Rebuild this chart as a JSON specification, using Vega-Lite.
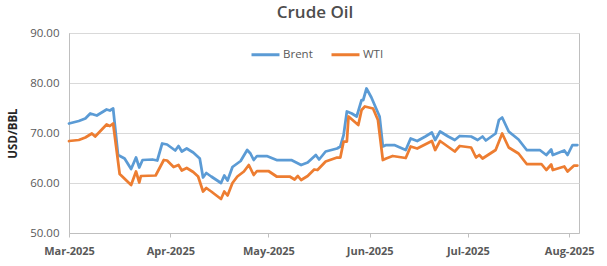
{
  "$schema": "https://vega.github.io/schema/vega-lite/v6.json",
  "width": 510,
  "height": 200,
  "autosize": "none",
  "padding": {"left": 69, "top": 33, "right": 28, "bottom": 33},
  "background": "white",
  "title": {"text": "Crude Oil", "fontSize": 17, "font": "Open Sans", "fontWeight": 600, "color": "#4D4D4D", "anchor": "middle", "dx": -9, "offset": 5},
  "config": {
    "view": {"stroke": "#BFBFBF", "strokeWidth": 1},
    "axis": {"labelFont": "Open Sans", "titleFont": "Open Sans", "labelColor": "#595959", "domainColor": "#BFBFBF", "tickColor": "#BFBFBF", "gridColor": "#D9D9D9"}
  },
  "data": {"values": [
    {"date": "2025-03-03T00:00", "series": "Brent", "price": 71.9},
    {"date": "2025-03-06T00:00", "series": "Brent", "price": 72.4},
    {"date": "2025-03-08T00:00", "series": "Brent", "price": 72.9},
    {"date": "2025-03-09T12:00", "series": "Brent", "price": 73.9},
    {"date": "2025-03-11T12:00", "series": "Brent", "price": 73.5},
    {"date": "2025-03-13T00:00", "series": "Brent", "price": 74.1},
    {"date": "2025-03-14T12:00", "series": "Brent", "price": 74.7},
    {"date": "2025-03-15T12:00", "series": "Brent", "price": 74.5},
    {"date": "2025-03-16T12:00", "series": "Brent", "price": 74.9},
    {"date": "2025-03-18T00:00", "series": "Brent", "price": 65.6},
    {"date": "2025-03-20T00:00", "series": "Brent", "price": 64.9},
    {"date": "2025-03-22T00:00", "series": "Brent", "price": 62.8},
    {"date": "2025-03-23T12:00", "series": "Brent", "price": 65.1},
    {"date": "2025-03-24T12:00", "series": "Brent", "price": 63.1},
    {"date": "2025-03-25T12:00", "series": "Brent", "price": 64.6},
    {"date": "2025-03-28T12:00", "series": "Brent", "price": 64.7},
    {"date": "2025-03-30T00:00", "series": "Brent", "price": 64.5},
    {"date": "2025-03-31T12:00", "series": "Brent", "price": 67.9},
    {"date": "2025-04-02T00:00", "series": "Brent", "price": 67.7},
    {"date": "2025-04-04T12:00", "series": "Brent", "price": 66.5},
    {"date": "2025-04-05T12:00", "series": "Brent", "price": 67.4},
    {"date": "2025-04-06T12:00", "series": "Brent", "price": 66.3},
    {"date": "2025-04-08T00:00", "series": "Brent", "price": 66.9},
    {"date": "2025-04-10T00:00", "series": "Brent", "price": 66.1},
    {"date": "2025-04-12T00:00", "series": "Brent", "price": 64.9},
    {"date": "2025-04-13T00:00", "series": "Brent", "price": 61.1},
    {"date": "2025-04-14T00:00", "series": "Brent", "price": 62.0},
    {"date": "2025-04-15T12:00", "series": "Brent", "price": 61.3},
    {"date": "2025-04-18T12:00", "series": "Brent", "price": 60.0},
    {"date": "2025-04-19T12:00", "series": "Brent", "price": 61.5},
    {"date": "2025-04-20T12:00", "series": "Brent", "price": 60.5},
    {"date": "2025-04-22T00:00", "series": "Brent", "price": 63.2},
    {"date": "2025-04-24T12:00", "series": "Brent", "price": 64.4},
    {"date": "2025-04-26T12:00", "series": "Brent", "price": 66.6},
    {"date": "2025-04-27T12:00", "series": "Brent", "price": 65.9},
    {"date": "2025-04-28T12:00", "series": "Brent", "price": 64.6},
    {"date": "2025-04-29T12:00", "series": "Brent", "price": 65.4},
    {"date": "2025-05-02T12:00", "series": "Brent", "price": 65.4},
    {"date": "2025-05-05T12:00", "series": "Brent", "price": 64.6},
    {"date": "2025-05-10T00:00", "series": "Brent", "price": 64.6},
    {"date": "2025-05-11T12:00", "series": "Brent", "price": 64.1},
    {"date": "2025-05-13T00:00", "series": "Brent", "price": 63.6},
    {"date": "2025-05-15T00:00", "series": "Brent", "price": 64.1},
    {"date": "2025-05-17T12:00", "series": "Brent", "price": 65.6},
    {"date": "2025-05-18T12:00", "series": "Brent", "price": 64.7},
    {"date": "2025-05-20T12:00", "series": "Brent", "price": 66.3},
    {"date": "2025-05-24T00:00", "series": "Brent", "price": 66.9},
    {"date": "2025-05-25T00:00", "series": "Brent", "price": 67.3},
    {"date": "2025-05-26T00:00", "series": "Brent", "price": 69.6},
    {"date": "2025-05-27T00:00", "series": "Brent", "price": 74.3},
    {"date": "2025-05-28T12:00", "series": "Brent", "price": 73.9},
    {"date": "2025-05-30T00:00", "series": "Brent", "price": 73.3},
    {"date": "2025-05-31T12:00", "series": "Brent", "price": 76.6},
    {"date": "2025-06-01T00:00", "series": "Brent", "price": 76.6},
    {"date": "2025-06-02T00:00", "series": "Brent", "price": 78.9},
    {"date": "2025-06-03T12:00", "series": "Brent", "price": 77.1},
    {"date": "2025-06-06T00:00", "series": "Brent", "price": 73.3},
    {"date": "2025-06-07T00:00", "series": "Brent", "price": 67.3},
    {"date": "2025-06-08T00:00", "series": "Brent", "price": 67.6},
    {"date": "2025-06-10T12:00", "series": "Brent", "price": 67.6},
    {"date": "2025-06-14T00:00", "series": "Brent", "price": 66.6},
    {"date": "2025-06-15T12:00", "series": "Brent", "price": 68.9},
    {"date": "2025-06-17T12:00", "series": "Brent", "price": 68.4},
    {"date": "2025-06-20T00:00", "series": "Brent", "price": 69.3},
    {"date": "2025-06-22T00:00", "series": "Brent", "price": 70.1},
    {"date": "2025-06-23T00:00", "series": "Brent", "price": 68.6},
    {"date": "2025-06-24T12:00", "series": "Brent", "price": 70.3},
    {"date": "2025-06-27T00:00", "series": "Brent", "price": 69.3},
    {"date": "2025-06-29T00:00", "series": "Brent", "price": 68.6},
    {"date": "2025-06-30T12:00", "series": "Brent", "price": 69.4},
    {"date": "2025-07-04T00:00", "series": "Brent", "price": 69.3},
    {"date": "2025-07-06T00:00", "series": "Brent", "price": 68.6},
    {"date": "2025-07-07T12:00", "series": "Brent", "price": 69.3},
    {"date": "2025-07-08T12:00", "series": "Brent", "price": 68.5},
    {"date": "2025-07-11T12:00", "series": "Brent", "price": 69.9},
    {"date": "2025-07-12T12:00", "series": "Brent", "price": 72.6},
    {"date": "2025-07-13T12:00", "series": "Brent", "price": 73.1},
    {"date": "2025-07-15T12:00", "series": "Brent", "price": 70.3},
    {"date": "2025-07-18T12:00", "series": "Brent", "price": 68.7},
    {"date": "2025-07-21T00:00", "series": "Brent", "price": 66.6},
    {"date": "2025-07-25T00:00", "series": "Brent", "price": 66.6},
    {"date": "2025-07-27T00:00", "series": "Brent", "price": 65.6},
    {"date": "2025-07-28T12:00", "series": "Brent", "price": 66.7},
    {"date": "2025-07-29T00:00", "series": "Brent", "price": 65.6},
    {"date": "2025-08-01T12:00", "series": "Brent", "price": 66.5},
    {"date": "2025-08-02T12:00", "series": "Brent", "price": 65.6},
    {"date": "2025-08-04T00:00", "series": "Brent", "price": 67.6},
    {"date": "2025-08-05T12:00", "series": "Brent", "price": 67.6},
    {"date": "2025-03-03T00:00", "series": "WTI", "price": 68.4},
    {"date": "2025-03-06T00:00", "series": "WTI", "price": 68.6},
    {"date": "2025-03-08T00:00", "series": "WTI", "price": 69.1},
    {"date": "2025-03-10T00:00", "series": "WTI", "price": 69.9},
    {"date": "2025-03-11T00:00", "series": "WTI", "price": 69.3},
    {"date": "2025-03-14T12:00", "series": "WTI", "price": 71.7},
    {"date": "2025-03-15T12:00", "series": "WTI", "price": 71.4},
    {"date": "2025-03-16T12:00", "series": "WTI", "price": 71.9},
    {"date": "2025-03-18T12:00", "series": "WTI", "price": 61.8},
    {"date": "2025-03-22T00:00", "series": "WTI", "price": 59.6},
    {"date": "2025-03-23T12:00", "series": "WTI", "price": 62.3},
    {"date": "2025-03-24T12:00", "series": "WTI", "price": 60.1},
    {"date": "2025-03-25T00:00", "series": "WTI", "price": 61.4},
    {"date": "2025-03-29T12:00", "series": "WTI", "price": 61.5},
    {"date": "2025-04-01T00:00", "series": "WTI", "price": 64.6},
    {"date": "2025-04-02T00:00", "series": "WTI", "price": 64.5},
    {"date": "2025-04-04T00:00", "series": "WTI", "price": 63.2},
    {"date": "2025-04-05T12:00", "series": "WTI", "price": 63.6},
    {"date": "2025-04-06T12:00", "series": "WTI", "price": 62.5},
    {"date": "2025-04-08T00:00", "series": "WTI", "price": 63.0},
    {"date": "2025-04-10T00:00", "series": "WTI", "price": 62.2},
    {"date": "2025-04-11T12:00", "series": "WTI", "price": 61.3},
    {"date": "2025-04-13T00:00", "series": "WTI", "price": 58.3},
    {"date": "2025-04-14T00:00", "series": "WTI", "price": 59.0},
    {"date": "2025-04-15T12:00", "series": "WTI", "price": 58.3},
    {"date": "2025-04-18T12:00", "series": "WTI", "price": 56.8},
    {"date": "2025-04-19T12:00", "series": "WTI", "price": 58.3},
    {"date": "2025-04-20T12:00", "series": "WTI", "price": 57.5},
    {"date": "2025-04-22T00:00", "series": "WTI", "price": 60.0},
    {"date": "2025-04-23T12:00", "series": "WTI", "price": 61.3},
    {"date": "2025-04-25T12:00", "series": "WTI", "price": 62.3},
    {"date": "2025-04-27T00:00", "series": "WTI", "price": 63.6},
    {"date": "2025-04-28T12:00", "series": "WTI", "price": 61.6},
    {"date": "2025-04-29T12:00", "series": "WTI", "price": 62.4},
    {"date": "2025-05-03T00:00", "series": "WTI", "price": 62.4},
    {"date": "2025-05-05T12:00", "series": "WTI", "price": 61.3},
    {"date": "2025-05-09T12:00", "series": "WTI", "price": 61.3},
    {"date": "2025-05-11T00:00", "series": "WTI", "price": 60.7},
    {"date": "2025-05-12T00:00", "series": "WTI", "price": 61.4},
    {"date": "2025-05-13T00:00", "series": "WTI", "price": 60.6},
    {"date": "2025-05-15T00:00", "series": "WTI", "price": 61.4},
    {"date": "2025-05-17T00:00", "series": "WTI", "price": 62.7},
    {"date": "2025-05-18T00:00", "series": "WTI", "price": 62.6},
    {"date": "2025-05-20T12:00", "series": "WTI", "price": 64.3},
    {"date": "2025-05-24T00:00", "series": "WTI", "price": 65.1},
    {"date": "2025-05-25T00:00", "series": "WTI", "price": 65.1},
    {"date": "2025-05-26T00:00", "series": "WTI", "price": 68.3},
    {"date": "2025-05-27T00:00", "series": "WTI", "price": 68.3},
    {"date": "2025-05-27T12:00", "series": "WTI", "price": 73.3},
    {"date": "2025-05-30T12:00", "series": "WTI", "price": 71.6},
    {"date": "2025-05-31T12:00", "series": "WTI", "price": 74.6},
    {"date": "2025-06-01T12:00", "series": "WTI", "price": 75.3},
    {"date": "2025-06-04T00:00", "series": "WTI", "price": 74.9},
    {"date": "2025-06-05T12:00", "series": "WTI", "price": 72.6},
    {"date": "2025-06-07T00:00", "series": "WTI", "price": 64.6},
    {"date": "2025-06-08T00:00", "series": "WTI", "price": 64.9},
    {"date": "2025-06-10T00:00", "series": "WTI", "price": 65.4},
    {"date": "2025-06-14T00:00", "series": "WTI", "price": 65.0},
    {"date": "2025-06-15T12:00", "series": "WTI", "price": 67.3},
    {"date": "2025-06-17T12:00", "series": "WTI", "price": 66.9},
    {"date": "2025-06-22T00:00", "series": "WTI", "price": 68.4},
    {"date": "2025-06-23T00:00", "series": "WTI", "price": 66.6},
    {"date": "2025-06-24T12:00", "series": "WTI", "price": 68.4},
    {"date": "2025-06-29T00:00", "series": "WTI", "price": 66.3},
    {"date": "2025-06-30T12:00", "series": "WTI", "price": 67.4},
    {"date": "2025-07-04T00:00", "series": "WTI", "price": 67.1},
    {"date": "2025-07-05T12:00", "series": "WTI", "price": 65.1},
    {"date": "2025-07-06T12:00", "series": "WTI", "price": 65.6},
    {"date": "2025-07-07T12:00", "series": "WTI", "price": 64.9},
    {"date": "2025-07-11T12:00", "series": "WTI", "price": 66.6},
    {"date": "2025-07-13T12:00", "series": "WTI", "price": 69.9},
    {"date": "2025-07-15T12:00", "series": "WTI", "price": 67.1},
    {"date": "2025-07-18T12:00", "series": "WTI", "price": 65.9},
    {"date": "2025-07-21T00:00", "series": "WTI", "price": 63.8},
    {"date": "2025-07-25T12:00", "series": "WTI", "price": 63.8},
    {"date": "2025-07-27T00:00", "series": "WTI", "price": 62.6},
    {"date": "2025-07-28T12:00", "series": "WTI", "price": 63.7},
    {"date": "2025-07-29T00:00", "series": "WTI", "price": 62.6},
    {"date": "2025-08-01T12:00", "series": "WTI", "price": 63.3},
    {"date": "2025-08-02T12:00", "series": "WTI", "price": 62.3},
    {"date": "2025-08-04T12:00", "series": "WTI", "price": 63.5},
    {"date": "2025-08-05T12:00", "series": "WTI", "price": 63.5}
  ]},
  "mark": {"type": "line", "strokeWidth": 2.75, "strokeJoin": "round", "strokeCap": "round"},
  "encoding": {
    "x": {
      "field": "date", "type": "temporal",
      "scale": {"domain": [{"year": 2025, "month": 3, "date": 3}, {"year": 2025, "month": 8, "date": 6}]},
      "axis": {
        "title": null, "format": "%b-%Y", "grid": false,
        "values": [{"year": 2025, "month": 3, "date": 3}, {"year": 2025, "month": 4, "date": 3}, {"year": 2025, "month": 5, "date": 3}, {"year": 2025, "month": 6, "date": 3}, {"year": 2025, "month": 7, "date": 3}, {"year": 2025, "month": 8, "date": 3}],
        "labelFontSize": 11, "labelFontWeight": "bold", "labelPadding": 8, "tickSize": 4, "labelFlush": false
      }
    },
    "y": {
      "field": "price", "type": "quantitative",
      "scale": {"domain": [50, 90], "nice": false, "zero": false},
      "axis": {
        "title": "USD/BBL", "values": [50, 60, 70, 80, 90], "format": ".2f",
        "labelFontSize": 11.5, "labelPadding": 10, "ticks": false,
        "titleFontSize": 11.5, "titleFontWeight": "bold", "titleColor": "#262626", "titlePadding": 11
      }
    },
    "color": {
      "field": "series", "type": "nominal",
      "scale": {"domain": ["Brent", "WTI"], "range": ["#5B9BD5", "#ED7D31"]},
      "legend": {
        "title": null, "orient": "none", "direction": "horizontal", "legendX": 181, "legendY": 6,
        "symbolType": "stroke", "symbolSize": 784, "symbolStrokeWidth": 3,
        "labelFont": "Open Sans", "labelFontSize": 11.5, "labelColor": "#595959", "labelOffset": 2, "columnPadding": 12
      }
    }
  }
}
